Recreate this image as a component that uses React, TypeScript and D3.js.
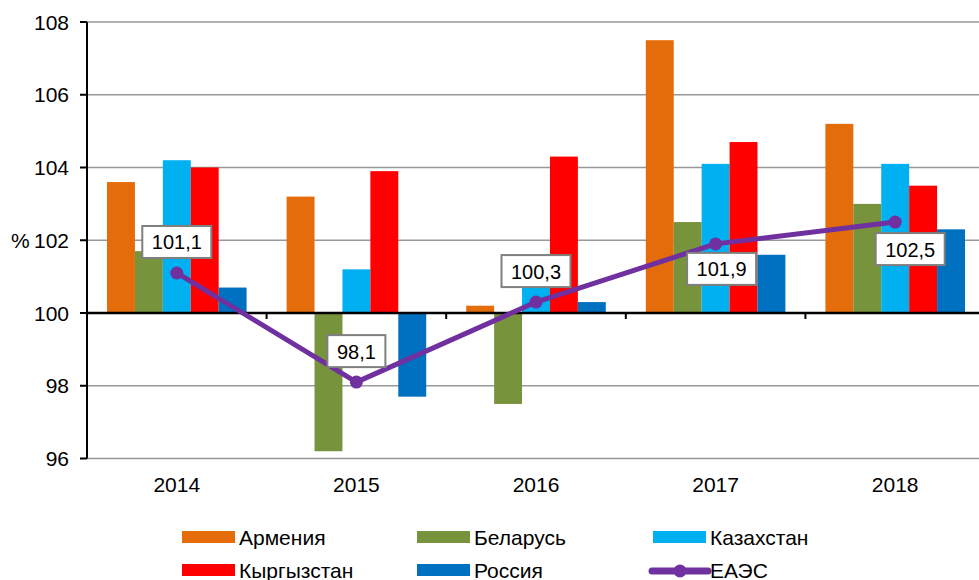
import { useEffect, useRef } from 'react'
import * as d3 from 'd3'

const years = ['2014', '2015', '2016', '2017', '2018']
const countries = ['Армения', 'Беларусь', 'Казахстан', 'Кыргызстан', 'Россия']
const armenia = [103.6, 103.2, 100.2, 107.5, 105.2]
const belarus = [101.7, 96.2, 97.5, 102.5, 103.0]
const kazakhstan = [104.2, 101.2, 100.7, 104.1, 104.1]
const kyrgyzstan = [104.0, 103.9, 104.3, 104.7, 103.5]
const russia = [100.7, 97.7, 100.3, 101.6, 102.3]
const eaeu = [101.1, 98.1, 100.3, 101.9, 102.5]
const yTicks = [96, 98, 100, 102, 104, 106, 108]

const colors = ['#E46C0A', '#77933C', '#00B0F0', '#FF0000', '#0070C0']
const lineColor = '#7030A0'
// label box offsets from the point (dx, dy of box center)
const labelOffsets = [[0, -31], [0, -31], [0, -31], [6, 25], [15, 27]]

export default function App() {
  const svgRef = useRef<SVGSVGElement | null>(null)

  useEffect(() => {
    const width = 979
    const height = 580
    const font = '"Liberation Sans", Arial, sans-serif'
    const svg = d3.select(svgRef.current)
    svg.selectAll('*').remove()
    svg.attr('width', width).attr('height', height)

    const left = 87
    const right = 985
    const y = d3.scaleLinear().domain([96, 108]).range([458.5, 22])
    const x0 = d3.scaleBand().domain(years).range([left, right])
    const bw = x0.bandwidth()
    const x1 = d3.scaleBand().domain(countries).range([20, bw - 20])

    // gridlines
    svg.append('g')
      .selectAll('line')
      .data(yTicks.filter(t => t !== 100))
      .join('line')
      .attr('x1', left).attr('x2', right)
      .attr('y1', d => y(d)).attr('y2', d => y(d))
      .attr('stroke', '#999999').attr('stroke-width', 1.5)

    const series = [armenia, belarus, kazakhstan, kyrgyzstan, russia]
    series.forEach((vals, si) => {
      svg.append('g')
        .selectAll('rect')
        .data(vals)
        .join('rect')
        .attr('x', (_, i) => x0(years[i])! + x1(countries[si])!)
        .attr('width', x1.bandwidth())
        .attr('y', d => Math.min(y(d), y(100)))
        .attr('height', d => Math.abs(y(d) - y(100)))
        .attr('fill', colors[si])
    })

    // y axis
    svg.append('line')
      .attr('x1', left).attr('x2', left)
      .attr('y1', y(108)).attr('y2', y(96))
      .attr('stroke', '#000').attr('stroke-width', 2)
    const yt = svg.append('g')
    yt.selectAll('line')
      .data(yTicks)
      .join('line')
      .attr('x1', 80).attr('x2', left)
      .attr('y1', d => y(d)).attr('y2', d => y(d))
      .attr('stroke', '#000').attr('stroke-width', 2)
    yt.selectAll('text')
      .data(yTicks)
      .join('text')
      .attr('x', 69)
      .attr('y', d => y(d) + 7.5)
      .attr('text-anchor', 'end')
      .attr('font-family', font)
      .attr('font-size', 21)
      .attr('fill', '#000')
      .text(d => d)
    svg.append('text')
      .attr('x', 11).attr('y', y(102) + 7.5)
      .attr('font-family', font).attr('font-size', 21)
      .text('%')

    // x axis at 100
    svg.append('line')
      .attr('x1', left).attr('x2', right)
      .attr('y1', y(100)).attr('y2', y(100))
      .attr('stroke', '#000').attr('stroke-width', 2.5)
    svg.append('g')
      .selectAll('line')
      .data(years.slice(1))
      .join('line')
      .attr('x1', d => x0(d)!).attr('x2', d => x0(d)!)
      .attr('y1', y(100)).attr('y2', y(100) + 6)
      .attr('stroke', '#000').attr('stroke-width', 2)
    svg.append('g')
      .selectAll('text')
      .data(years)
      .join('text')
      .attr('x', d => x0(d)! + bw / 2)
      .attr('y', 492)
      .attr('text-anchor', 'middle')
      .attr('font-family', font)
      .attr('font-size', 21)
      .text(d => d)

    // EAEU line
    const pts: [number, number][] = eaeu.map((v, i) => [x0(years[i])! + bw / 2, y(v)])
    svg.append('path')
      .attr('d', d3.line()(pts))
      .attr('fill', 'none')
      .attr('stroke', lineColor)
      .attr('stroke-width', 5)
      .attr('stroke-linejoin', 'round')
    svg.append('g')
      .selectAll('circle')
      .data(pts)
      .join('circle')
      .attr('cx', d => d[0]).attr('cy', d => d[1])
      .attr('r', 6.5)
      .attr('fill', lineColor)

    // data labels
    const lab = svg.append('g')
    pts.forEach((p, i) => {
      const cx = p[0] + labelOffsets[i][0]
      const cy = p[1] + labelOffsets[i][1]
      const txt = d3.format('.1f')(eaeu[i]).replace('.', ',')
      const w = txt.length === 5 ? 69 : 58
      lab.append('rect')
        .attr('x', cx - w / 2).attr('y', cy - 16)
        .attr('width', w).attr('height', 32)
        .attr('fill', '#fff')
        .attr('stroke', '#7f7f7f')
        .attr('stroke-width', 2)
      lab.append('text')
        .attr('x', cx).attr('y', cy + 7.5)
        .attr('text-anchor', 'middle')
        .attr('font-family', font)
        .attr('font-size', 20)
        .text(txt)
    })

    // legend
    const legendItems = [...countries, 'ЕАЭС']
    const colX = [182, 417, 653]
    const rowY = [537, 570]
    legendItems.forEach((name, i) => {
      const lx = colX[i % 3]
      const ly = rowY[Math.floor(i / 3)]
      const g = svg.append('g')
      if (i < 5) {
        g.append('rect')
          .attr('x', lx).attr('y', ly - 6)
          .attr('width', 53).attr('height', 12)
          .attr('fill', colors[i])
      } else {
        g.append('line')
          .attr('x1', lx - 1).attr('x2', lx + 55)
          .attr('y1', ly + 1).attr('y2', ly + 1)
          .attr('stroke', lineColor).attr('stroke-width', 7)
          .attr('stroke-linecap', 'round')
        g.append('circle')
          .attr('cx', lx + 27).attr('cy', ly + 1).attr('r', 6.5)
          .attr('fill', lineColor)
      }
      g.append('text')
        .attr('x', lx + 57).attr('y', ly + 8)
        .attr('font-family', font)
        .attr('font-size', 21)
        .text(name)
    })
  }, [])

  return <svg ref={svgRef} style={{ position: 'absolute', left: 0, top: 0 }} />
}
